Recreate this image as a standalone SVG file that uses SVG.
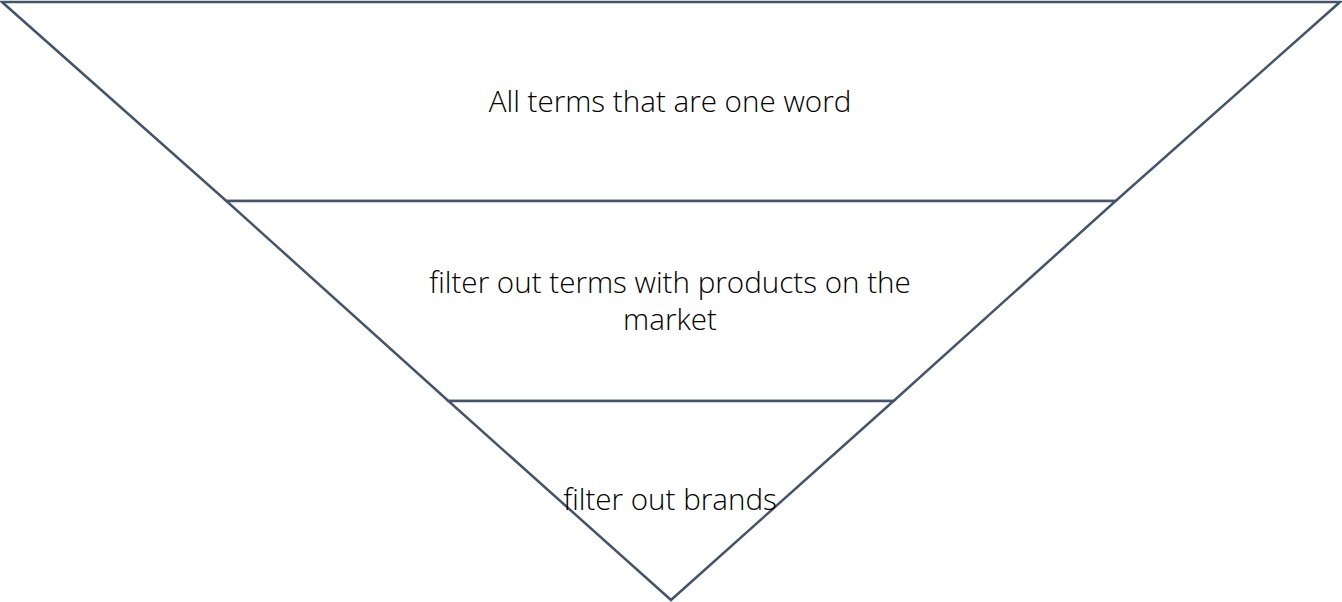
<svg xmlns="http://www.w3.org/2000/svg" width="1342" height="602" viewBox="0 0 1342 602">
<style>
.seg{fill:#ffffff;stroke:#44546A;stroke-width:2.5;stroke-linejoin:miter}
.lbl{font-family:"Open Sans","Liberation Sans",sans-serif;font-weight:300;font-size:29.6px;fill:#000000;text-anchor:middle}
</style>
<rect width="1342" height="602" fill="#ffffff"/>
<g id="level1">
<polygon class="seg" points="2,2 1340,2 1115.6,201 226.4,201"/>
<text class="lbl" x="670" y="112">All terms that are one word</text>
</g>
<g id="level2">
<polygon class="seg" points="226.4,201 1115.6,201 893.6,401 448.4,401"/>
<text class="lbl" x="670" y="293">filter out terms with products on the</text>
<text class="lbl" x="670" y="330">market</text>
</g>
<g id="level3">
<polygon class="seg" points="448.4,401 893.6,401 671,600"/>
<text class="lbl" x="670" y="510">filter out brands</text>
</g>
</svg>
